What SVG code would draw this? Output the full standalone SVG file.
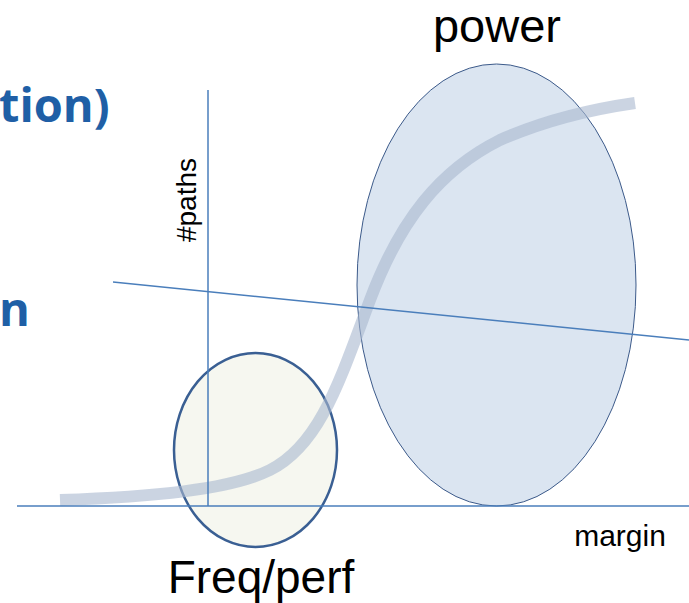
<svg xmlns="http://www.w3.org/2000/svg" width="689" height="603" viewBox="0 0 689 603">
<style>
.ax{stroke:#4a7ebb;stroke-width:1.5;fill:none}
.lbl{font-family:"Liberation Sans",Arial,sans-serif;fill:#000}
.title{font-family:"Open Sans","Liberation Sans",sans-serif;font-weight:bold;fill:#1f5fa6}
</style>
<rect width="689" height="603" fill="#fff"/>
<text class="title" x="-1" y="122" font-size="47">tion)</text>
<text class="title" x="-1" y="326" font-size="47">n</text>
<g id="power">
<ellipse cx="496.5" cy="285" rx="139.5" ry="221" fill="#dbe5f1" stroke="#3c5a8a" stroke-width="1"/>
<text class="lbl" x="497" y="42" font-size="47" text-anchor="middle">power</text>
</g>
<g id="freq">
<ellipse cx="255.5" cy="450" rx="81.5" ry="97" fill="#f6f7f0" stroke="#3a5f93" stroke-width="2.5"/>
<text class="lbl" x="261" y="593" font-size="46" text-anchor="middle">Freq/perf</text>
</g>
<g id="connectors">
<path d="M60,500 C150,497 230,490 270,470 C320,445 340,380 370,300 C400,220 440,170 500,140 C550,118 600,108 635,103" fill="none" stroke="#a9b8cf" stroke-opacity="0.6" stroke-width="12"/>
<line class="ax" x1="17" y1="506" x2="689" y2="506"/>
<line class="ax" x1="208" y1="90" x2="208" y2="506"/>
<line class="ax" x1="113" y1="282" x2="689" y2="340"/>
</g>
<text class="lbl" x="620" y="546" font-size="30" text-anchor="middle">margin</text>
<text class="lbl" transform="translate(196,200) rotate(-90)" font-size="28" text-anchor="middle">#paths</text>
</svg>
